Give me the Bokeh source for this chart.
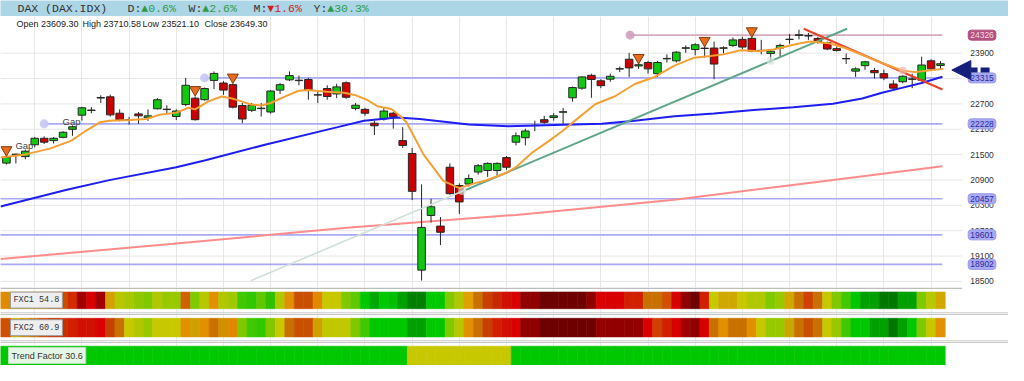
from bokeh.plotting import figure
from bokeh.layouts import column
from bokeh.models import Range1d, Label, FixedTicker, Arrow, NormalHead, ColumnDataSource
from bokeh.core.properties import value
from bokeh.embed import file_html
from bokeh.resources import INLINE

# ---------------- data ----------------
opens = [21299, 21500, 21452, 21733, 21886, 21831, 21908, 22098, 22433, 22543,
         22838, 22867, 22479, 22330, 22463, 22372, 22584, 22565, 22401, 22684,
         22835, 22798, 23255, 23193, 23154, 22661, 22547, 22588, 22508, 23026,
         23268, 23250, 23277, 22908, 23063, 22935, 23200, 22593, 22570, 22242,
         22342, 22479, 21831, 21527, 18767, 20060, 19809, 21201, 20768, 20804,
         21087, 21124, 21124, 21429, 21794, 21899, 22185, 22326, 22378, 22503,
         22844, 23072, 23375, 23245, 23284, 23523, 23756, 23597, 23679, 23414,
         23765, 23718, 24016, 23985, 24018, 24021, 24016, 24083, 24226, 24249,
         23958, 23893, 24021, 24222, 24320, 24306, 24249, 24151, 24007, 23766,
         23474, 23604, 23490, 23414, 23170, 23223, 23280, 23261, 23718, 23609.30]
highs = [21482, 21527, 21619, 21915, 21931, 21915, 22052, 22189, 22629, 22623,
         22903, 22919, 22570, 22394, 22508, 22570, 22835, 22668, 22570, 23314,
         22873, 23086, 23467, 23239, 23177, 22721, 22721, 22721, 23026, 23193,
         23467, 23369, 23314, 23026, 23140, 23177, 23232, 22721, 22607, 22303,
         22607, 22508, 22150, 21657, 20797, 20455, 20022, 21292, 20820, 21032,
         21276, 21315, 21315, 21466, 22023, 22114, 22303, 22417, 22479, 22607,
         23109, 23353, 23414, 23284, 23414, 23581, 23907, 23679, 23718, 23718,
         23871, 23946, 24083, 24135, 24076, 24174, 24060, 24272, 24288, 24288,
         24213, 23985, 24121, 24350, 24455, 24379, 24288, 24174, 24060, 23893,
         23565, 23718, 23551, 23512, 23261, 23375, 23414, 23816, 23756, 23710.58]
lows = [21265, 21292, 21391, 21671, 21749, 21762, 21886, 21945, 22303, 22479,
        22721, 22401, 22287, 22212, 22228, 22296, 22570, 22479, 22319, 22645,
        22303, 22775, 23049, 22912, 22593, 22242, 22508, 22401, 22470, 22935,
        23239, 23140, 22798, 22721, 22798, 22835, 22821, 22547, 22417, 21961,
        22303, 22114, 21657, 20425, 18520, 19892, 19360, 20553, 20097, 20745,
        21025, 20973, 21009, 21140, 21717, 21717, 22052, 22228, 22303, 22228,
        22753, 23033, 22844, 23072, 23223, 23451, 23337, 23528, 23414, 23337,
        23679, 23679, 23907, 23848, 23793, 23284, 23893, 24044, 23991, 23923,
        23871, 23679, 23793, 24121, 24226, 24213, 24121, 23969, 23939, 23642,
        23337, 23505, 23300, 23261, 23056, 23186, 23072, 23223, 23490, 23521.10]
closes = [21443, 21510, 21580, 21886, 21794, 21886, 22029, 22159, 22607, 22554,
          22850, 22440, 22319, 22322, 22417, 22417, 22798, 22575, 22531, 23140,
          22326, 23063, 23421, 23026, 22623, 22342, 22668, 22598, 23004, 23154,
          23369, 23260, 23026, 22916, 22873, 23102, 22857, 22668, 22479, 22182,
          22531, 22394, 21717, 20631, 19778, 20266, 19663, 20576, 20380, 20934,
          21238, 21292, 21292, 21201, 21945, 22059, 22195, 22264, 22417, 22513,
          23086, 23337, 23277, 23131, 23353, 23533, 23551, 23626, 23528, 23679,
          23775, 23923, 24026, 24099, 24010, 23642, 24026, 24213, 24044, 23946,
          23966, 23946, 24083, 24230, 24335, 24316, 24174, 23998, 23962, 23774,
          23528, 23695, 23437, 23314, 23072, 23353, 23290, 23620, 23528, 23649.30]

# moving averages (candle index, price)
ma_fast_idx = [-0.63, 2.0, 4.6, 6.9, 8.5, 9.9, 10.9, 13.0, 14.8, 16.2, 18.0, 19.3, 20.0,
               21.4, 22.8, 23.8, 24.9, 25.9, 27.0, 28.0, 29.5, 30.9, 31.9, 34.0, 35.8,
               36.9, 38.2, 39.3, 40.8, 41.7, 42.4, 44.2, 46.3, 48.0, 49.6, 50.8, 52.9,
               54.0, 55.7, 57.4, 58.9, 60.3, 62.4, 64.5, 66.6, 68.7, 70.8, 72.9, 74.6,
               76.0, 77.8, 79.7, 81.3, 83.4, 85.1, 87.2, 88.9, 91.0, 93.1, 94.9, 96.3,
               97.7, 99.3]
ma_fast_val = [21429, 21505, 21641, 21831, 22075, 22264, 22303, 22319, 22342, 22440, 22493,
               22607, 22570, 22759, 22873, 22835, 22759, 22684, 22661, 22721, 22873, 23004,
               23026, 22988, 22965, 22912, 22798, 22645, 22577, 22417, 22264, 21505, 20877,
               20706, 20820, 20889, 21060, 21201, 21543, 21808, 22052, 22310, 22691, 22880,
               23170, 23337, 23604, 23793, 23832, 23871, 23969, 23946, 23985, 24099, 24174,
               24135, 24021, 23832, 23642, 23489, 23451, 23489, 23528]
ma_mid_idx = [-0.63, 6.4, 10.9, 18.0, 21.1, 27.4, 35.1, 37.9, 41.4, 43.8, 49.0, 53.2, 56.1,
              63.1, 66.6, 70.8, 75.0, 79.2, 83.4, 87.6, 90.7, 92.8, 94.9, 97.0, 99.2]
ma_mid_val = [20273, 20667, 20896, 21201, 21368, 21733, 22150, 22303, 22378, 22342, 22212,
              22173, 22189, 22228, 22303, 22406, 22474, 22554, 22623, 22702, 22828, 22965,
              23079, 23193, 23341]
ma_slow_idx = [-0.63, 17.7, 36.1, 54.0, 70.8, 85.5, 99.2]
ma_slow_val = [19029, 19390, 19771, 20073, 20432, 20840, 21224]

# support / resistance levels
level_values = [24326, 23315, 22228, 20457, 19601, 18902]
level_labels = ["24326", "23315", "22228", "20457", "19601", "18902"]
level_start_idx = [66.1, 21.0, 4.0, -1, -1, -1]

# trend lines
trend_up_idx = [25.9, 48.7, 89.1]
trend_up_val = [18517, 20667, 24477]
trend_down_idx = [84.5, 99.2]
trend_down_val = [24477, 23040]

# signal markers
signal_idx = [0, 20, 24, 67, 74, 79]
signal_price = [21612, 23033, 23330, 23793, 24197, 24425]
pivot_idx = [48.3, 81.0, 95.0]
pivot_price = [20638, 23718, 23489]
gap_idx = [1.9, 6.9]
gap_price = [21710, 22280]
arrow_price = 23500

# axis
price_ticks = [18500, 19100, 19700, 20300, 20900, 21500, 22100, 22700, 23900]
tick_labels = ["18500", "19100", "19700", "20300", "20900", "21500", "22100", "22700", "23900"]
grid_ticks = [23300]
week_idx = [3, 8, 13, 18, 23, 28, 33, 38, 43, 48, 53, 58, 63, 68, 73, 78, 83, 88, 93, 98]

# header texts
title_name = "DAX (DAX.IDX)"
perf_keys = ["D:", "W:", "M:", "Y:"]
perf_vals = ["\u25b20.6%", "\u25b22.6%", "\u25bc1.6%", "\u25b230.3%"]
perf_up = [True, True, False, True]
ohlc_names = ["Open", "High", "Low", "Close"]
ohlc_last = ["23609.30", "23710.58", "23521.10", "23649.30"]

# indicator strips
strip_names = ["FXC1 54.8", "FXC2 60.9", "Trend Factor 30.6"]
fxc1_colors = (["#e08a00", "#d0a000", "#c8b400", "#d09800", "#e08800", "#d86800",
                "#cc4c00", "#d42a00", "#a00000", "#d80000", "#a00000", "#d4a000",
                "#b8c800", "#a8c800", "#90c800", "#80c800", "#b0c800", "#98c800",
                "#98c800", "#d06000", "#80c800", "#b8c800", "#e09000", "#b0c800",
                "#a0c800", "#40c800", "#30c800", "#60c800", "#30c000", "#b0c800",
                "#e09000", "#c85000", "#c85000", "#e08800", "#c8c800", "#c8c800",
                "#80c800", "#60c800", "#00c800", "#00a800", "#00c800", "#00c000",
                "#00a000", "#008000", "#008000", "#00c800", "#00c800", "#80c800",
                "#b0c800", "#e0a000", "#c87000", "#c84000", "#c82800", "#d01000",
                "#d80000", "#900000", "#900000", "#6e0000", "#6e0000", "#6e0000",
                "#6e0000", "#6e0000", "#900000", "#d80000", "#d80000", "#d80000",
                "#d02000", "#d02000", "#c87000", "#c87000", "#d05000", "#d80000",
                "#900000", "#6e0000", "#d02000", "#c8c800", "#d0a800", "#d0a800",
                "#c8c800", "#b0c800", "#b0c800", "#80c800", "#98c800", "#d0a800",
                "#c87000", "#d04000", "#c87000", "#c8c800", "#80c800", "#40c800",
                "#00c800", "#00a000", "#00a000", "#007800", "#007800", "#00a000",
                "#00a000", "#80c800", "#b8c800", "#d0a800"])
fxc2_colors = (["#d05000", "#c8b400", "#d09000", "#c87000", "#d04000", "#c83000",
                "#c83000", "#d02000", "#d01000", "#d01000", "#d80000", "#c84000",
                "#c87000", "#c8c800", "#b0c800", "#98c800", "#c8c800", "#c8c800",
                "#c8c800", "#e09000", "#d0a000", "#e09000", "#c87000", "#d09000",
                "#e08800", "#80c800", "#40c800", "#30c800", "#80c800", "#c8c800",
                "#c87000", "#c85000", "#c85000", "#d0a000", "#c0c800", "#c0c800",
                "#c0c800", "#80c800", "#40c800", "#00c800", "#00c800", "#00c800",
                "#00c800", "#00a000", "#00a000", "#00c800", "#00c800", "#80c800",
                "#b8c800", "#e09000", "#c87000", "#c84000", "#d02000", "#d01000",
                "#d80000", "#900000", "#900000", "#6e0000", "#6e0000", "#6e0000",
                "#6e0000", "#6e0000", "#6e0000", "#920000", "#920000", "#920000",
                "#920000", "#920000", "#d80000", "#d04000", "#d02000", "#d80000",
                "#a00000", "#900000", "#d80000", "#c87000", "#e09000", "#c87000",
                "#c87000", "#e09000", "#c8c800", "#98c800", "#98c800", "#c8a800",
                "#c87000", "#c85000", "#c87000", "#c8c800", "#98c800", "#40c800",
                "#00c800", "#00c800", "#00a000", "#00a000", "#007800", "#00a000",
                "#00c800", "#80c800", "#c8c800", "#e09000"])
trend_colors = ["#00c800"] * 43 + ["#c8c800"] * 11 + ["#00c800"] * 46

# ---------------- layout ----------------
W = 1008
X0 = -0.63
PX = 9.435
X1 = X0 + W / PX
LEVEL_END = 99.2
GRID_END = 101.3
LABEL_X = 103.4
xr = Range1d(X0, X1)

N = len(closes)
idx = list(range(N))
UP, DOWN, EDGE = "#10c810", "#cc0000", "#262626"

# ---- header bar ----
BAR = "#acd5e5"
head = figure(width=W, height=16, x_range=Range1d(0, W), y_range=Range1d(0, 16),
              output_backend="svg", toolbar_location=None, x_axis_location=None,
              y_axis_location=None, min_border=0, outline_line_color=None,
              background_fill_color=BAR, border_fill_color=BAR)
head.grid.visible = False
mono = "Liberation Mono"
head.add_layout(Label(x=17, y=8, x_units="screen", y_units="screen", text=title_name,
                      text_font=mono, text_font_size="11.5px", text_color="#333333",
                      text_baseline="middle"))
for k, (key, val, upv, xpos) in enumerate(zip(perf_keys, perf_vals, perf_up, [127, 188, 253, 313])):
    head.add_layout(Label(x=xpos, y=8, x_units="screen", y_units="screen", text=key,
                          text_font=mono, text_font_size="11.5px", text_color="#333333",
                          text_baseline="middle"))
    head.add_layout(Label(x=xpos + 13.8, y=8, x_units="screen", y_units="screen", text=val,
                          text_font=mono, text_font_size="11.5px",
                          text_color="#2f9a46" if upv else "#cc2222", text_baseline="middle"))

# ---- main chart ----
MH = 271
main = figure(width=W, height=MH, x_range=xr, y_range=Range1d(18356, 24767),
              output_backend="svg", toolbar_location=None, x_axis_location=None,
              y_axis_location=None, min_border=0, outline_line_color=None,
              background_fill_color="white", border_fill_color="white")
main.ygrid.visible = False
main.xgrid.ticker = FixedTicker(ticks=week_idx)
main.xgrid.grid_line_color = "#e6e6e6"

all_grid = price_ticks + grid_ticks
main.segment(x0=[X0] * len(all_grid), x1=[GRID_END] * len(all_grid), y0=all_grid, y1=all_grid,
             line_color="#e6e6e6", line_width=1)

lvl_colors = ["#d6a9bf"] + ["#aaaaf4"] * 5
main.segment(x0=level_start_idx, x1=[LEVEL_END] * len(level_values), y0=level_values,
             y1=level_values, line_color=lvl_colors, line_width=1.6)

main.line(ma_slow_idx, ma_slow_val, line_color="#ff8c8c", line_width=2)

src = ColumnDataSource(dict(
    x=idx, h=highs, l=lows,
    top=[max(o, c) for o, c in zip(opens, closes)],
    bottom=[min(o, c) for o, c in zip(opens, closes)],
    color=[UP if c >= o else DOWN for o, c in zip(opens, closes)]))
main.segment(x0="x", x1="x", y0="h", y1="l", source=src, line_color=EDGE, line_width=1)
main.vbar(x="x", width=0.8, top="top", bottom="bottom", fill_color="color",
          line_color=EDGE, line_width=1, source=src)

main.line(ma_mid_idx, ma_mid_val, line_color="#1e1ef0", line_width=2)
main.line(trend_up_idx[:2], trend_up_val[:2], line_color="#cfe0d6", line_width=1.5)
main.line(trend_up_idx[1:], trend_up_val[1:], line_color="#5fa588", line_width=2)
main.line(trend_down_idx, trend_down_val, line_color="#e8402a", line_width=2)
main.line(ma_fast_idx, ma_fast_val, line_color="#f4a034", line_width=2)

main.scatter(level_start_idx[:3], level_values[:3], size=9,
             fill_color=["#cf9fba", "#c6c6f4", "#c6c6f4"], line_color=None, alpha=0.9)
main.scatter(pivot_idx, pivot_price, size=8, fill_color=["#cfe0d6", "#d8e4dc", "#f4b8a8"],
             line_color=None, alpha=0.7)
main.scatter(signal_idx, signal_price, marker="inverted_triangle", size=11,
             fill_color="#e56e1e", line_color="#8a3a10", line_width=1)

main.text(x=gap_idx, y=gap_price, text=["Gap"] * len(gap_idx), text_font=value("Liberation Sans"),
          text_font_size="9.5px", text_color="#444444", text_align="center",
          text_baseline="middle")

main.text(x=[LABEL_X] * len(price_ticks), y=price_ticks, text=tick_labels,
          text_font=value("Liberation Sans"), text_font_size="8.5px", text_color="#333333",
          text_align="center", text_baseline="middle")
main.text(x=[LABEL_X] * len(level_values), y=level_values, text=level_labels,
          text_font=value("Liberation Sans"), text_font_size="8.5px",
          text_color=["#f6dbe7"] + ["#2c2c9c"] * 5,
          background_fill_color=["#b3507e"] + ["#a9a9f2"] * 5,
          border_line_color=["#b3507e"] + ["#9a9ae8"] * 5,
          padding=2, border_radius=3, text_align="center", text_baseline="middle")

main.add_layout(Arrow(end=NormalHead(size=19, fill_color="#14207a", line_color="#14207a"),
                      x_start=104.2, y_start=arrow_price, x_end=100.2, y_end=arrow_price,
                      line_color="#14207a", line_width=5, line_dash="9 3"))

for name, val, xpos in zip(ohlc_names, ohlc_last, [16, 82, 142, 204]):
    main.add_layout(Label(x=xpos, y=MH - 7, x_units="screen", y_units="screen",
                          text=name + " " + val, text_font="Liberation Sans",
                          text_font_size="9px", text_color="#222222", text_baseline="middle"))

# ---- indicator strips ----
SH = 78
strips = figure(width=W, height=SH, x_range=xr, y_range=Range1d(SH, 0),
                output_backend="svg", toolbar_location=None, x_axis_location=None,
                y_axis_location=None, min_border=0, outline_line_color=None,
                background_fill_color="white", border_fill_color="white")
strips.ygrid.visible = False
strips.xgrid.ticker = FixedTicker(ticks=week_idx)
strips.xgrid.grid_line_color = "#ececec"

cell_left = [X0] + [i - 0.5 for i in idx[1:]]
cell_right = [i + 0.5 for i in idx]
rows = [(4.5, 21.2, fxc1_colors), (30.8, 49.4, fxc2_colors), (58.7, 77.7, trend_colors)]
for top, bot, cols in rows:
    strips.quad(left=cell_left, right=cell_right, top=top, bottom=bot,
                fill_color=cols, line_color=cols, line_width=0.6)

strips.segment(x0=[X0], x1=[GRID_END], y0=[0.8], y1=[0.8], line_color="#bdbdbd", line_width=1.5)
strips.segment(x0=[X0] * 4, x1=[X1] * 4, y0=[25.3, 27, 53.3, 55], y1=[25.3, 27, 53.3, 55],
               line_color="#c8c8c8", line_width=1)

label_y = [SH - 12.6, SH - 40.2, SH - 68.0]
for k, (name, ly) in enumerate(zip(strip_names, label_y)):
    if k < 2:
        strips.add_layout(Label(x=10, y=ly, x_units="screen", y_units="screen", text=name,
                                text_font=mono, text_font_size="8.5px", text_color="#333333",
                                text_baseline="middle", background_fill_color="#eeeeee",
                                border_line_color="#9a9a9a", padding=3))
    else:
        strips.add_layout(Label(x=8, y=ly, x_units="screen", y_units="screen", text=name,
                                text_font="Liberation Sans", text_font_size="9px",
                                text_color="#333333", text_baseline="middle",
                                background_fill_color="#e4f6e4", border_line_color="#b8dcb8",
                                padding=3))

page = column(head, main, strips, spacing=0)
open("out.html", "w").write(file_html(page, INLINE))
